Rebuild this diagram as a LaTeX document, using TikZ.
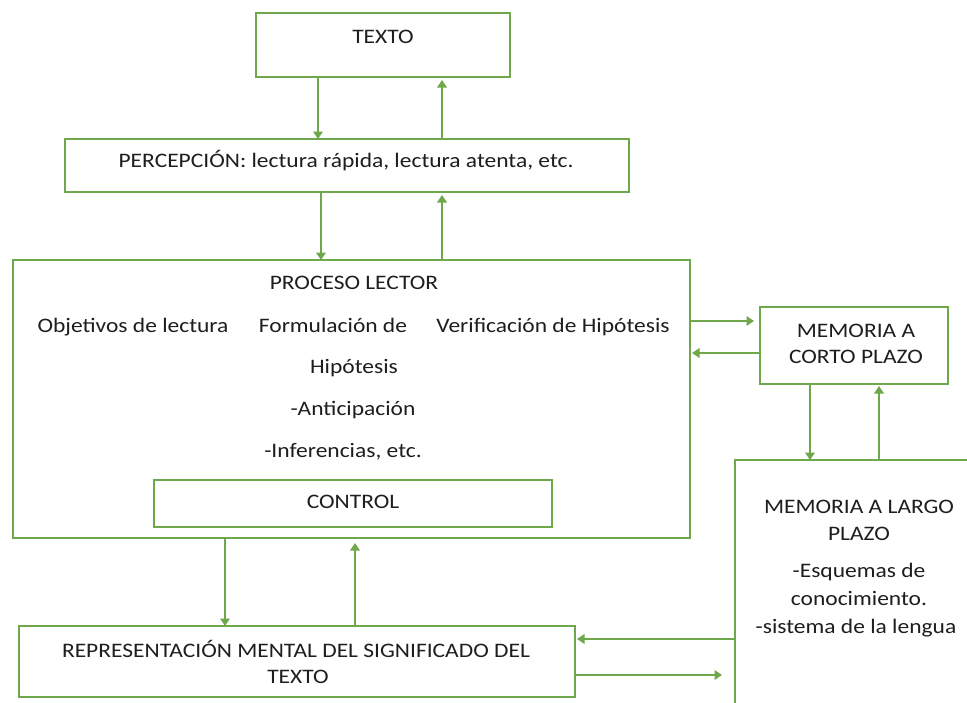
\documentclass[tikz,border=0pt]{standalone}
\usepackage{fontspec}
\setmainfont{Carlito}[FakeStretch=1.14]
\usetikzlibrary{arrows.meta}
\definecolor{grn}{HTML}{6EA84A}
\definecolor{txt}{HTML}{1E1E1E}
\begin{document}
\begin{tikzpicture}[x=1pt,y=-1pt,
 box/.style={draw=grn, line width=2.2pt, rectangle, inner sep=0pt, outer sep=0pt},
 lbl/.style={text=txt, font=\fontsize{20.6pt}{25pt}\selectfont, inner sep=0pt, anchor=base},
 arr/.style={draw=grn, line width=2.8pt, -{Triangle[width=9.5pt,length=7.5pt]}}]
\useasboundingbox (0,0) rectangle (967,702);
\clip (0,0) rectangle (967,702);
\fill[white] (0,0) rectangle (967,702);

% boxes
\node[box, minimum width=254pt, minimum height=64pt] (texto) at (383,45) {};
\node[box, minimum width=564pt, minimum height=53pt] (percep) at (347,165.5) {};
\node[box, minimum width=677pt, minimum height=278pt] (proc) at (351.5,399) {};
\node[box, minimum width=398pt, minimum height=47pt] (control) at (353,503.5) {};
\node[box, minimum width=556pt, minimum height=71pt] (rep) at (297,661.5) {};
\node[box, minimum width=188pt, minimum height=77pt] (corto) at (854,345.5) {};
\node[box, minimum width=275pt, minimum height=300pt] (largo) at (872.5,610) {};

% texts
\node[lbl] (textoL) at (383,43) {TEXTO};
\node[lbl] (percepL) at (346,167) {PERCEPCIÓN: lectura rápida, lectura atenta, etc.};
\node[lbl] (procL) at (354,289) {PROCESO LECTOR};
\node[lbl] (objL) at (133,332) {Objetivos de lectura};
\node[lbl] (formL) at (333,332) {Formulación de};
\node[lbl] (verL) at (553,332) {Verificación de Hipótesis};
\node[lbl] (hipL) at (354,373) {Hipótesis};
\node[lbl] (antL) at (353,415) {-Anticipación};
\node[lbl] (infL) at (343,457) {-Inferencias, etc.};
\node[lbl] (controlL) at (353,508) {CONTROL};
\node[lbl] (repL1) at (296,657) {REPRESENTACIÓN MENTAL DEL SIGNIFICADO DEL};
\node[lbl] (repL2) at (298,683) {TEXTO};
\node[lbl] (cortoL1) at (856,337) {MEMORIA A};
\node[lbl] (cortoL2) at (856,363) {CORTO PLAZO};
\node[lbl] (largoL1) at (859,513) {MEMORIA A LARGO};
\node[lbl] (largoL2) at (859,540) {PLAZO};
\node[lbl] (largoL3) at (859,577) {-Esquemas de};
\node[lbl] (largoL4) at (859,605) {conocimiento.};
\node[lbl] (largoL5) at (856,633) {-sistema de la lengua};

% connectors
\draw[arr] (texto.south -| 318,0) -- (percep.north -| 318,0);
\draw[arr] (percep.north -| 442,0) -- ([yshift=-3pt]texto.south -| 442,0);
\draw[arr] (percep.south -| 321,0) -- (proc.north -| 321,0);
\draw[arr] (proc.north -| 442,0) -- ([yshift=-3pt]percep.south -| 442,0);
\draw[arr, shorten >=6pt] (proc.east |- 0,321) -- (corto.west |- 0,321);
\draw[arr, shorten >=2pt] (corto.west |- 0,353) -- (proc.east |- 0,353);
\draw[arr] (corto.south -| 810,0) -- (largo.north -| 810,0);
\draw[arr, shorten >=2pt] (largo.north -| 879,0) -- (corto.south -| 879,0);
\draw[arr] (proc.south -| 225,0) -- (rep.north -| 225,0);
\draw[arr, shorten >=5pt] (rep.north -| 355,0) -- (proc.south -| 355,0);
\draw[arr, shorten >=2pt] (largo.west |- 0,639) -- (rep.east |- 0,639);
\draw[arr, shorten >=13pt] (rep.east |- 0,675) -- (largo.west |- 0,675);
\end{tikzpicture}
\end{document}
